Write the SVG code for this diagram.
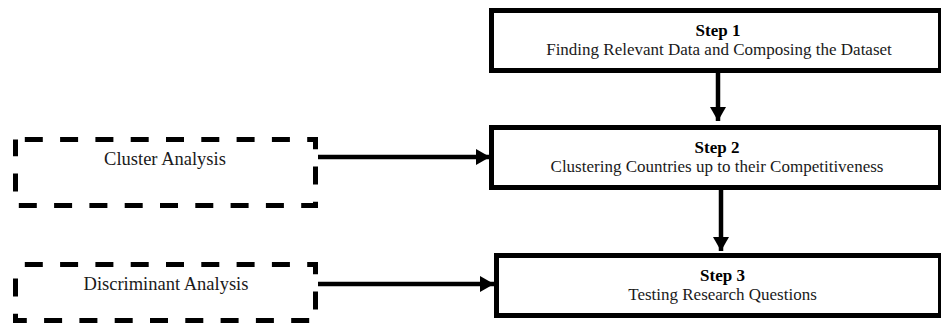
<svg xmlns="http://www.w3.org/2000/svg" width="941" height="323" viewBox="0 0 941 323">
<style>
.step{fill:#fff;stroke:#000;stroke-width:5}
.dash{fill:#fff;stroke:#000;stroke-width:5;stroke-dasharray:18 17.3;stroke-dashoffset:26}
.t{font-family:"Liberation Serif","Times New Roman",serif;font-size:17px;fill:#1a1a1a;text-anchor:middle}
.b{font-weight:bold;fill:#000}
.lbl{font-family:"Liberation Serif","Times New Roman",serif;font-size:18.5px;fill:#1a1a1a;text-anchor:middle}
.conn{stroke:#000;stroke-width:4.5;fill:none}
</style>
<defs>
<marker id="ah" markerUnits="userSpaceOnUse" markerWidth="14" markerHeight="16" refX="14" refY="8" orient="auto" viewBox="0 0 14 16">
<path d="M0,0 L14,8 L0,16 Z" fill="#000"/>
</marker>
</defs>
<rect width="941" height="323" fill="#fff"/>
<g id="step1">
<rect class="step" x="491.5" y="10.5" width="449" height="60"/>
<text class="t b" x="718" y="36">Step 1</text>
<text class="t" x="719" y="54.5">Finding Relevant Data and Composing the Dataset</text>
</g>
<g id="step2">
<rect class="step" x="491.5" y="127.5" width="449" height="60"/>
<text class="t b" x="717" y="153">Step 2</text>
<text class="t" x="717" y="171.5">Clustering Countries up to their Competitiveness</text>
</g>
<g id="step3">
<rect class="step" x="496.5" y="255.5" width="444" height="60"/>
<text class="t b" x="722.5" y="281">Step 3</text>
<text class="t" x="722.5" y="299.5">Testing Research Questions</text>
</g>
<g id="cluster">
<rect class="dash" x="15.5" y="139.5" width="300" height="66"/>
<text class="lbl" x="165" y="165">Cluster Analysis</text>
</g>
<g id="discriminant">
<rect class="dash" x="15.5" y="264.5" width="300" height="56"/>
<text class="lbl" x="166" y="290">Discriminant Analysis</text>
</g>
<g id="connectors">
<line class="conn" x1="718" y1="73" x2="718" y2="121" marker-end="url(#ah)"/>
<line class="conn" x1="721" y1="190" x2="721" y2="251" marker-end="url(#ah)"/>
<line class="conn" x1="318" y1="157" x2="490" y2="157" marker-end="url(#ah)"/>
<line class="conn" x1="318" y1="284" x2="494" y2="284" marker-end="url(#ah)"/>
</g>
</svg>
